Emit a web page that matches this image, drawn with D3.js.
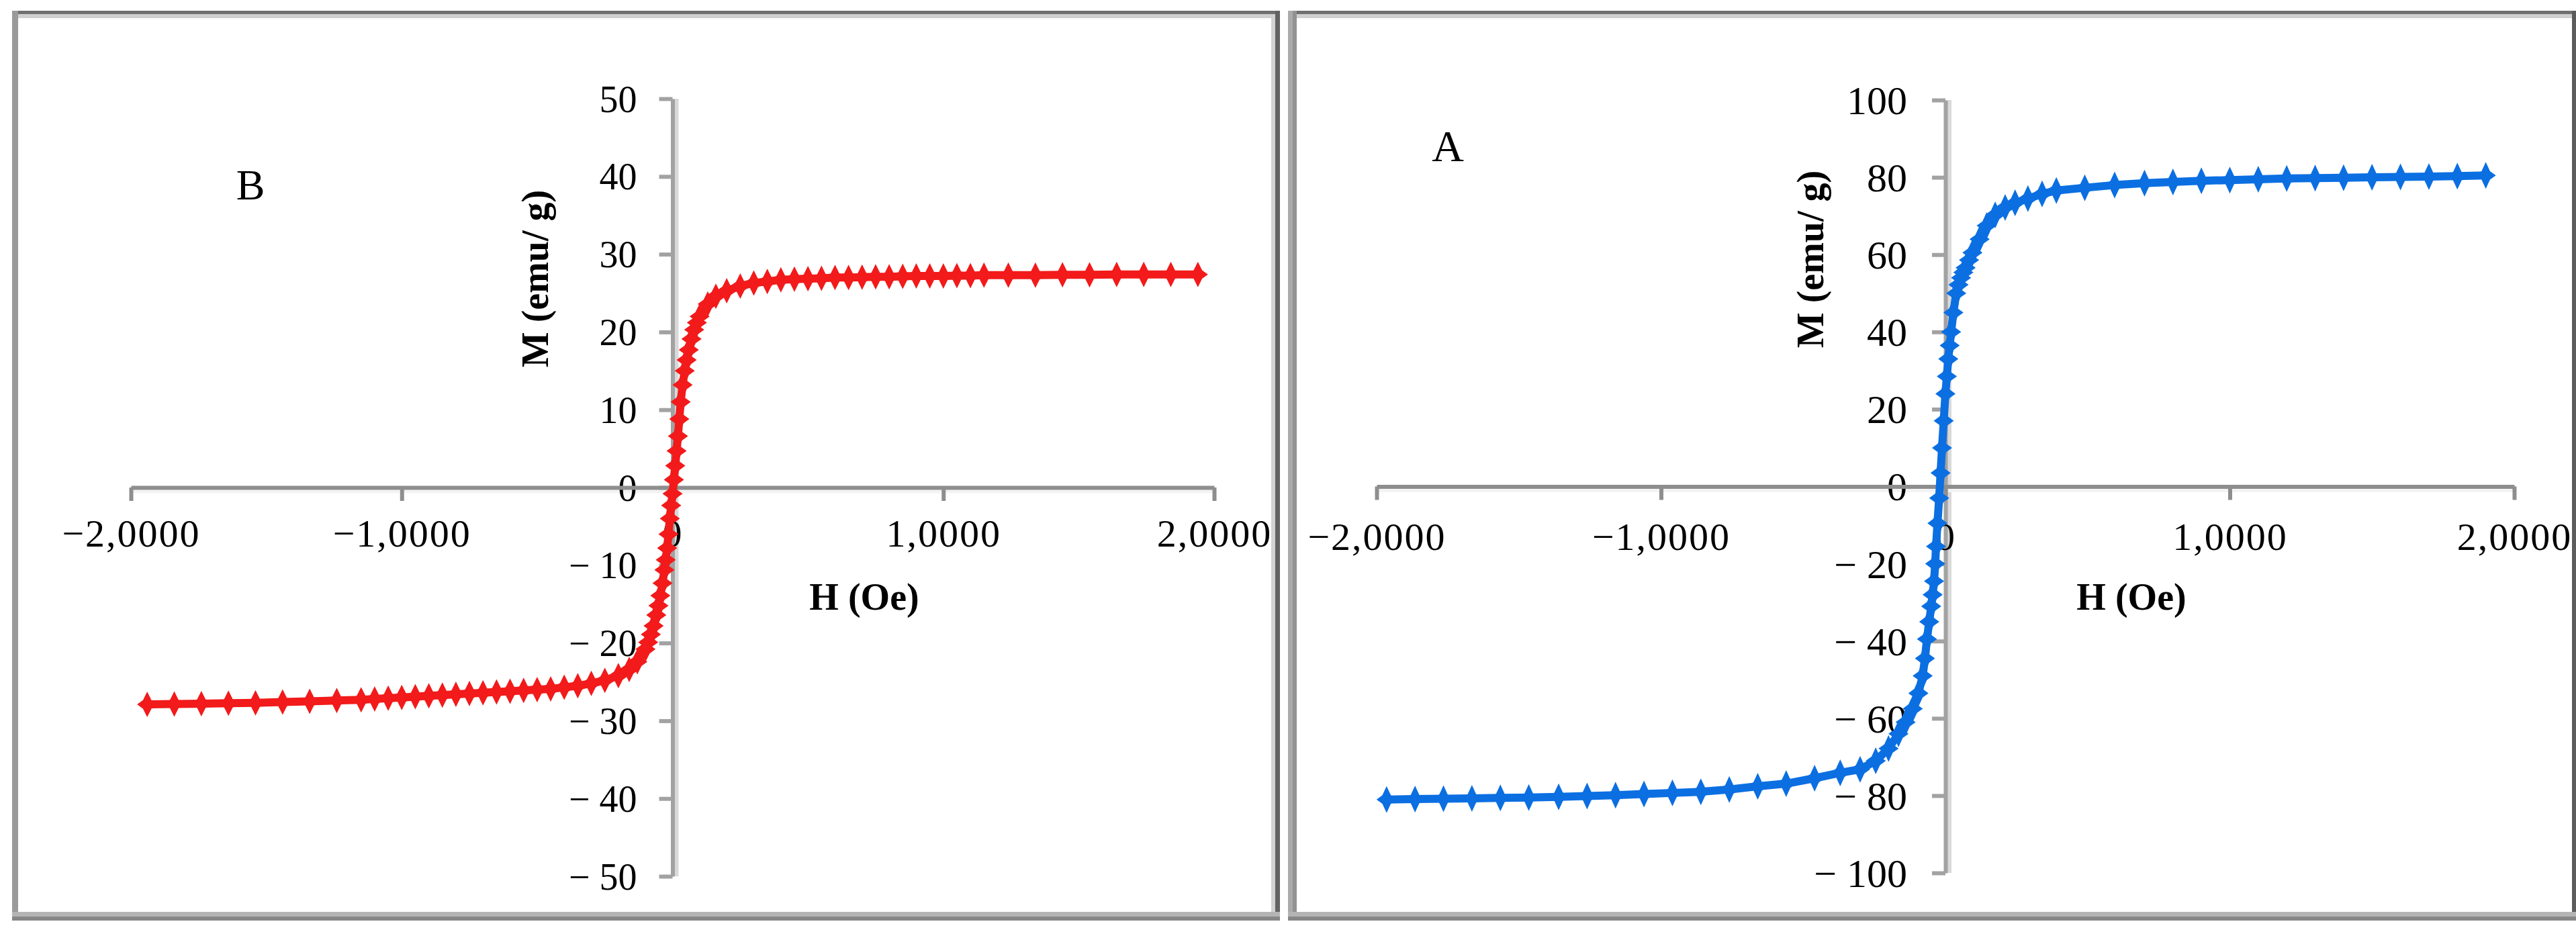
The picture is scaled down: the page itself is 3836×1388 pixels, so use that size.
<!DOCTYPE html>
<html>
<head>
<meta charset="utf-8">
<script src="https://cdn.jsdelivr.net/npm/d3@7"></script>
<style>
  body { margin: 0; background: #fff; }
  svg text { font-family: "Liberation Serif", "Times New Roman", serif; fill: #000; }
</style>
</head>
<body>
<div id="chart"></div>
<script>
const svgWidth = 3836;
const svgHeight = 1388;

// axis ticks and labels
const xTickValues = [-2000, -1000, 0, 1000, 2000];
const xTickLabels = ["−2,0000", "−1,0000", "0", "1,0000", "2,0000"];
const yTickValuesB = [-50, -40, -30, -20, -10, 0, 10, 20, 30, 40, 50];
const yTickLabelsB = ["− 50", "− 40", "− 30", "− 20", "− 10", "0", "10", "20", "30", "40", "50"];
const yTickValuesA = [-100, -80, -60, -40, -20, 0, 20, 40, 60, 80, 100];
const yTickLabelsA = ["− 100", "− 80", "− 60", "− 40", "− 20", "0", "20", "40", "60", "80", "100"];

// sample B (red): H (Oe) and M (emu/g)
const fieldB = [-1940, -1840, -1740, -1640, -1540, -1440, -1340, -1240,
  -1150, -1100, -1050, -1000, -950, -900, -850, -800, -750, -700, -650, -600, -550, -500, -450, -400, -350, -300, -250, -200,
  -160, -130, -100, -90, -80, -70, -60, -52, -45, -37, -30, -25, -20, -15, -10, -5, 0, 5, 10, 15, 20, 25, 30, 37, 45, 52, 60, 70, 80, 90, 100, 130, 160,
  200, 250, 300, 350, 400, 450, 500, 550, 600, 650, 700, 750, 800, 850, 900, 950, 1000, 1050, 1100, 1150,
  1240, 1340, 1440, 1540, 1640, 1740, 1840, 1940];
const magB = [-27.9, -27.85, -27.8, -27.75, -27.7, -27.6, -27.5, -27.4,
  -27.3, -27.2, -27.1, -27.0, -26.9, -26.8, -26.7, -26.6, -26.5, -26.4, -26.3, -26.2, -26.1, -26.0, -25.9, -25.7, -25.5, -25.2, -24.8, -24.2,
  -23.4, -22.4, -20.8, -19.9, -18.9, -17.8, -16.4, -15.2, -13.9, -12.3, -10.6, -9.3, -7.8, -6.0, -4.0, -2.3, -0.8, 1.0, 2.8, 4.7, 6.6, 8.8, 11.0, 13.2, 15.0, 16.4, 17.7, 19.1, 20.3, 21.2, 22.0, 23.6, 24.6,
  25.3, 25.9, 26.3, 26.5, 26.7, 26.8, 26.85, 26.9, 27.0, 27.0, 27.05, 27.1, 27.1, 27.15, 27.2, 27.2, 27.2, 27.25, 27.25, 27.3,
  27.3, 27.3, 27.35, 27.35, 27.4, 27.4, 27.4, 27.4];

// sample A (blue)
const fieldA = [-1965, -1865, -1765, -1665, -1565, -1465, -1360, -1260, -1160, -1060,
  -960, -860, -760, -660, -560, -460, -370, -300, -245, -200, -165, -140, -115, -95, -80, -72, -65,
  -57, -50, -45, -40, -36, -33, -28, -22, -17, -12, -6, 0, 5, 10, 15, 20, 28, 38, 46, 55, 63, 71, 83, 95, 120, 145, 175, 210,
  245, 290, 340, 390, 490, 595, 700, 800, 900, 1000, 1100, 1200, 1300, 1400, 1500, 1600, 1700, 1800, 1900];
const magA = [-81.0, -80.9, -80.8, -80.7, -80.6, -80.5, -80.3, -80.1, -79.9, -79.6,
  -79.3, -79.0, -78.4, -77.6, -76.9, -75.5, -74.1, -73.2, -71.0, -67.8, -64.0, -61.0, -57.5, -53.5, -49.0, -44.5, -39.5,
  -35.0, -31.0, -28.0, -24.5, -20.0, -15.5, -9.5, -3.0, 3.5, 10.0, 17.0, 24.0, 28.5, 33.0, 36.5, 40.0, 45.0, 50.0, 52.2, 54.0, 55.4, 56.6, 58.6, 60.5, 64.0, 67.5, 70.3, 72.2,
  73.4, 74.5, 75.7, 76.6, 77.3, 78.0, 78.5, 78.8, 79.1, 79.3, 79.5, 79.7, 79.8, 79.9, 80.0, 80.1, 80.2, 80.3, 80.5];

const svg = d3.select("#chart")
  .append("svg")
  .attr("width", svgWidth)
  .attr("height", svgHeight);

svg.append("rect").attr("width", svgWidth).attr("height", svgHeight).attr("fill", "#fff");

// panel frames (strips so the two-tone edges look like the scan)
function strip(x, y, w, h, c) {
  svg.append("rect").attr("x", x).attr("y", y).attr("width", w).attr("height", h).attr("fill", c);
}
// left panel
strip(18, 21, 1888, 6, "#d0d0d0");
strip(18, 16, 1888, 5, "#707070");
strip(18, 16, 9, 1355, "#9a9a9a");
strip(1893, 21, 6, 1344, "#d2d2d2");
strip(1899, 16, 7, 1355, "#636363");
strip(18, 1358, 1888, 7, "#b4b4b4");
strip(18, 1365, 1888, 6, "#878787");
// right panel
strip(1918, 21, 1918, 6, "#d0d0d0");
strip(1918, 16, 1918, 5, "#707070");
strip(1918, 16, 7, 1355, "#aaaaaa");
strip(1925, 16, 6, 1355, "#929292");
strip(3830, 16, 6, 1355, "#5c5c5c");
strip(1918, 1358, 1918, 7, "#b4b4b4");
strip(1918, 1365, 1918, 6, "#878787");

// four-point star marker, like the scanned Excel markers
function starType(hh, hw) {
  return {
    draw(ctx) {
      const a = hw * 0.42;
      ctx.moveTo(0, -hh);
      ctx.lineTo(a, -a);
      ctx.lineTo(hw, 0);
      ctx.lineTo(a, a);
      ctx.lineTo(0, hh);
      ctx.lineTo(-a, a);
      ctx.lineTo(-hw, 0);
      ctx.lineTo(-a, -a);
      ctx.closePath();
    }
  };
}

function drawPanel(p) {
  const g = svg.append("g");
  const x = d3.scaleLinear().domain([-2000, 2000]).range(p.xRange);
  const y = d3.scaleLinear().domain(p.yDomain).range(p.yRange);
  const x0 = x(0), y0 = y(0);

  // faint shadows beside the axis lines
  g.append("line").attr("x1", x0 + 6).attr("x2", x0 + 6)
    .attr("y1", y.range()[1]).attr("y2", y.range()[0])
    .attr("stroke", "#d9d9d9").attr("stroke-width", 6);
  g.append("line").attr("x1", x.range()[0]).attr("x2", x.range()[1])
    .attr("y1", y0 + 6).attr("y2", y0 + 6)
    .attr("stroke", "#f3f3f3").attr("stroke-width", 5);

  const yAxis = g.append("g")
    .attr("transform", `translate(${x0},0)`)
    .call(d3.axisLeft(y).tickValues(p.yTicks).tickFormat((d, i) => p.yLabels[i])
      .tickSize(20).tickSizeOuter(0).tickPadding(p.yPad))
    .attr("font-size", null).attr("font-family", null);
  yAxis.select(".domain").attr("stroke", "#a2a2a2").attr("stroke-width", 6);
  yAxis.selectAll(".tick line").attr("stroke", "#a2a2a2").attr("stroke-width", 6);
  yAxis.selectAll(".tick text").attr("font-size", p.yFont).attr("dy", "0.34em");

  const xAxis = g.append("g")
    .attr("transform", `translate(0,${y0})`)
    .call(d3.axisBottom(x).tickValues(xTickValues).tickFormat((d, i) => xTickLabels[i])
      .tickSize(20).tickSizeOuter(0))
    .attr("font-size", null).attr("font-family", null);
  xAxis.select(".domain").attr("stroke", "#8e8e8e").attr("stroke-width", 6);
  xAxis.selectAll(".tick line").attr("stroke", "#8e8e8e").attr("stroke-width", 6);
  xAxis.selectAll(".tick text")
    .attr("font-size", 58).attr("letter-spacing", "2px")
    .attr("y", p.xLabelOffset).attr("dy", "0.34em");

  // axis titles
  g.append("text")
    .attr("transform", `translate(${p.mTitle[0]},${p.mTitle[1]}) rotate(-90)`)
    .attr("text-anchor", "middle").attr("font-weight", "bold").attr("font-size", 56)
    .text("M (emu/ g)");
  g.append("text")
    .attr("x", p.hTitle[0]).attr("y", p.hTitle[1])
    .attr("text-anchor", "middle").attr("font-weight", "bold").attr("font-size", 56)
    .text("H (Oe)");
  g.append("text")
    .attr("x", p.letterPos[0]).attr("y", p.letterPos[1])
    .attr("text-anchor", "middle").attr("font-size", p.letterFont)
    .text(p.letter);

  // data
  const pts = p.field.map((h, i) => ({ h: h, m: p.mag[i] }));
  const line = d3.line().x(d => x(d.h)).y(d => y(d.m));
  g.append("path")
    .datum(pts)
    .attr("d", line)
    .attr("fill", "none")
    .attr("stroke", p.color)
    .attr("stroke-width", 12)
    .attr("stroke-linejoin", "round");
  g.selectAll(".pt")
    .data(pts)
    .enter()
    .append("path")
    .attr("class", "pt")
    .attr("transform", d => `translate(${x(d.h)},${y(d.m)})`)
    .attr("d", d3.symbol().type(starType(p.markerH, p.markerW))())
    .attr("fill", p.color);
}

drawPanel({
  xRange: [195, 1808], yDomain: [-50, 50], yRange: [1305, 147],
  yTicks: yTickValuesB, yLabels: yTickLabelsB, yFont: 56, yPad: 33,
  xLabelOffset: 68,
  mTitle: [816, 415], hTitle: [1287, 908],
  letter: "B", letterPos: [373, 297], letterFont: 64,
  field: fieldB, mag: magB, color: "#f21a1a", markerH: 19, markerW: 15
});

drawPanel({
  xRange: [2050, 3744], yDomain: [-100, 100], yRange: [1300, 149],
  yTicks: yTickValuesA, yLabels: yTickLabelsA, yFont: 60, yPad: 37,
  xLabelOffset: 75,
  mTitle: [2715, 386], hTitle: [3174, 908],
  letter: "A", letterPos: [2156, 240], letterFont: 66,
  field: fieldA, mag: magA, color: "#0b6fe2", markerH: 20, markerW: 15
});
</script>
</body>
</html>
